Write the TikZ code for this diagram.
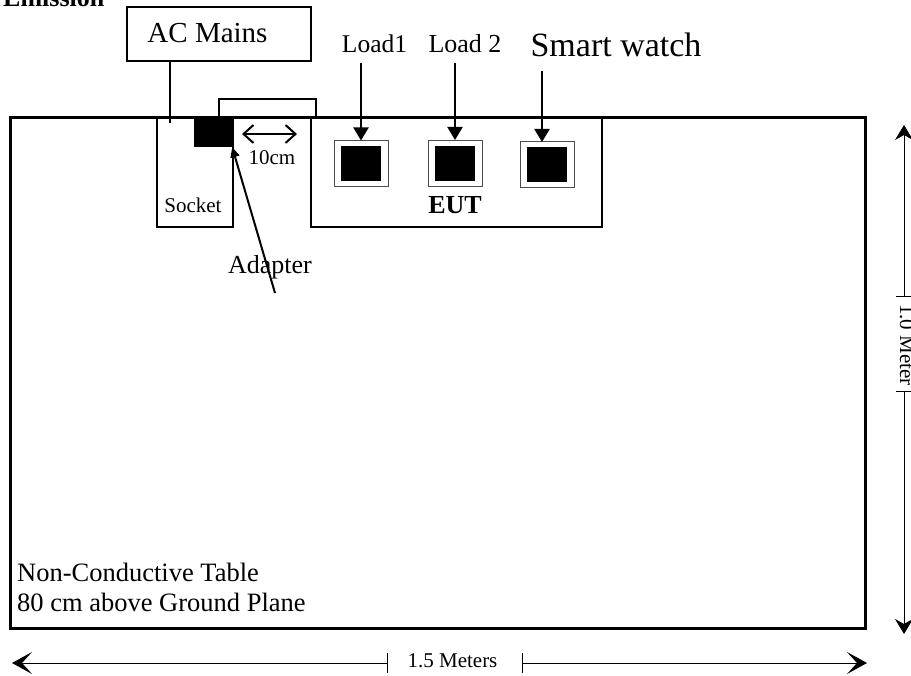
\documentclass[tikz,border=0pt]{standalone}
\usepackage{fontspec}
\setmainfont{Liberation Serif}
\usetikzlibrary{arrows.meta}

\begin{document}
\begin{tikzpicture}[x=1pt, y=-1pt,
    tablebox/.style={rectangle, draw, line width=3pt, minimum width=855pt, minimum height=510pt, inner sep=0pt},
    box/.style={rectangle, draw, line width=1.5pt, inner sep=0pt},
    loadbox/.style={rectangle, draw=black!70, line width=1pt, fill=white, minimum width=54pt, minimum height=46pt, inner sep=0pt},
    blk/.style={rectangle, fill=black, minimum width=#1, inner sep=0pt},
    txt/.style={font=\fontsize{#1}{#1}\selectfont, inner sep=0pt, anchor=base},
    arr/.style={-{Triangle[length=13pt, width=15pt]}, line width=2pt},
    dim/.style={line width=1pt},
    hbarb/.tip={Stealth[length=20pt, width=22pt, inset=10pt]},
    vbarb/.tip={Stealth[length=15pt, width=18pt, inset=5pt]},
]
\useasboundingbox (0,0) rectangle (911,676);

% === Title ===
\node[txt=26, anchor=base west] (title) at (3,7) {\bfseries Emission};

% === Table ===
\node[tablebox] (table) at (437.5,373) {};
\node[txt=26.5, anchor=base west] (tab1) at (17,581) {Non-Conductive Table};
\node[txt=26.5, anchor=base west] (tab2) at (17,611) {80 cm above Ground Plane};

% AC Mains + socket
\node[box, minimum width=184pt, minimum height=54pt] (mains) at (219,34) {};
\node[txt=29] (mainslab) at (207.5,43) {AC Mains};
\node[box, minimum width=76pt, minimum height=109pt] (socket) at (195,172.5) {};
\node[txt=21] (socklab) at (193,213) {Socket};
\coordinate (plugin) at (170,123);
\draw[line width=1.5pt] (mains.south -| plugin) -- (plugin);

% Adapter and cable cover
\node[box, minimum width=97pt, minimum height=19pt] (cover) at (267.5,108.5) {};
\node[blk=38pt, minimum height=29pt] (adapter) at (213,132.5) {};
\node[txt=26] (adlab) at (270,274) {Adapter};
\coordinate (adtail) at (275,293);
\draw[-{Triangle[length=10pt, width=9pt]}, line width=2pt] (adtail) -- (adapter.south east);

% 10cm spacing
\coordinate (gapl) at (242,134);
\coordinate (gapr) at (297,134);
\draw[{Straight Barb[length=10pt, width=18pt]}-{Straight Barb[length=10pt, width=18pt]}, line width=2pt] (gapl) -- (gapr);
\node[txt=21] (gaplab) at (272,165) {10cm};

% === EUT ===
\node[box, minimum width=291pt, minimum height=109pt] (eut) at (456.5,172.5) {};
\node[txt=26] (eutlab) at (455,214) {\bfseries EUT};

\node[loadbox] (load1) at (361,164) {};
\node[blk=40pt, minimum height=35pt] (load1in) at (load1) {};
\node[loadbox] (load2) at (455,163.5) {};
\node[blk=40pt, minimum height=35pt] (load2in) at (load2) {};
\node[loadbox] (watch) at (547,165) {};
\node[blk=40pt, minimum height=35pt] (watchin) at (watch) {};

\node[txt=25.5] (l1lab) at (374.5,53) {Load1};
\node[txt=26] (l2lab) at (465,53) {Load 2};
\node[txt=34] (wlab) at (616,57) {Smart watch};
\coordinate (watchtop) at (542,142);

\draw[arr] ([yshift=-10pt]l1lab.south -| load1) -- (load1.north);
\draw[arr] ([yshift=-10pt]l2lab.south -| load2) -- (load2.north);
\draw[arr] ([yshift=-13pt]wlab.south -| watchtop) -- (watchtop);

% === Dimensions ===
% width
\coordinate (wl) at (12,663);
\coordinate (wt1) at (387,663);
\coordinate (wt2) at (522,663);
\coordinate (wr) at (867,663);
\draw[dim, hbarb-] (wl) -- (wt1);
\draw[dim, -hbarb] (wt2) -- (wr);
\draw[dim] (wt1) ++(0,-10) -- ++(0,20);
\draw[dim] (wt2) ++(0,-10) -- ++(0,20);
\node[txt=21] (wlab) at (452.5,667) {1.5 Meters};

% height
\coordinate (ht) at (904,125);
\coordinate (ht1) at (904,297);
\coordinate (ht2) at (904,392);
\coordinate (hb) at (904,634);
\draw[dim, vbarb-] (ht) -- (ht1);
\draw[dim, -vbarb] (ht2) -- (hb);
\draw[dim] (ht1) ++(-8,0) -- ++(16,0);
\draw[dim] (ht2) ++(-8,0) -- ++(16,0);
\node[txt=21, rotate=-90] (hlab) at (900,345) {1.0 Meter};

\end{tikzpicture}
\end{document}
